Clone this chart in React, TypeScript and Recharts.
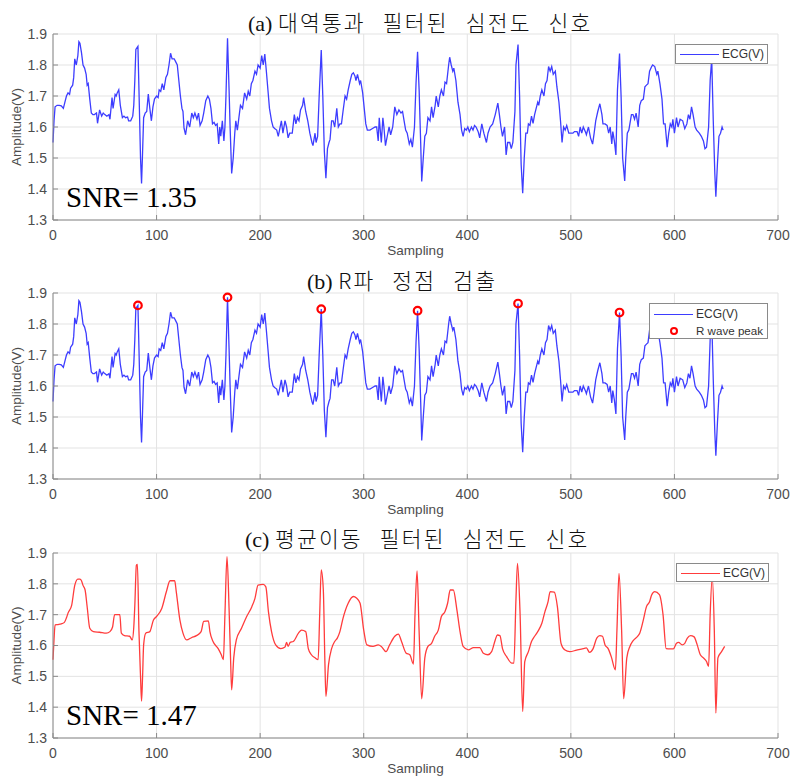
import React from 'react';
import { ComposedChart, Line, Scatter, XAxis, YAxis, CartesianGrid } from 'recharts';

// axis ticks
const xTicks = [0, 100, 200, 300, 400, 500, 600, 700];
const yTicks = [1.3, 1.4, 1.5, 1.6, 1.7, 1.8, 1.9];

// band-pass filtered ECG: [sample, amplitude(V)]
const rawEcg: [number, number][] = [
  [0, 1.55], [1, 1.62], [2, 1.665], [4, 1.67], [6, 1.67], [8, 1.668], [10, 1.66], [11.5, 1.68], [13, 1.7],
  [14.5, 1.71], [16, 1.705], [17, 1.725], [19, 1.735], [20, 1.76], [21, 1.82], [22.5, 1.8], [24, 1.83],
  [25, 1.875], [26, 1.87], [27.5, 1.84], [29, 1.8], [30.5, 1.79], [32, 1.77], [33, 1.735], [34, 1.74],
  [35.5, 1.69], [37, 1.645], [38.5, 1.64], [40, 1.64], [42, 1.645], [43, 1.612], [45, 1.655], [47, 1.635],
  [48.5, 1.645], [50, 1.64], [52, 1.635], [54, 1.64], [55, 1.625], [57, 1.695], [58, 1.66], [60, 1.705],
  [61, 1.7], [62, 1.71], [63.5, 1.72], [65, 1.67], [67, 1.63], [68.5, 1.635], [70, 1.63], [72, 1.632],
  [73, 1.62], [75, 1.62], [77, 1.635], [78, 1.67], [79, 1.75], [80, 1.85], [82, 1.86], [83, 1.72],
  [84.5, 1.5], [85.5, 1.418], [86.5, 1.52], [87.5, 1.63], [89, 1.645], [90.5, 1.65], [92, 1.706],
  [93.5, 1.66], [95, 1.62], [96.5, 1.665], [98, 1.69], [100, 1.7], [101.5, 1.695], [102.5, 1.72],
  [104, 1.715], [105.5, 1.74], [107, 1.72], [109, 1.76], [110.5, 1.77], [112, 1.8], [113.5, 1.838],
  [115, 1.82], [117, 1.82], [118.5, 1.81], [120, 1.8], [121.5, 1.75], [123, 1.7], [124.5, 1.66],
  [125.5, 1.65], [126.5, 1.596], [128, 1.575], [130, 1.62], [132, 1.6], [134, 1.645], [135.5, 1.63],
  [137, 1.645], [139, 1.625], [140.5, 1.645], [142, 1.605], [144, 1.62], [145.5, 1.645], [147.5, 1.685],
  [149.5, 1.7], [151, 1.69], [152.5, 1.66], [154, 1.61], [155.5, 1.615], [157, 1.605], [158.5, 1.61],
  [160, 1.545], [161, 1.6], [162, 1.57], [163.5, 1.62], [165, 1.555], [166, 1.6], [167, 1.7],
  [168.5, 1.886], [170, 1.72], [171, 1.6], [172.5, 1.45], [174, 1.5], [175.5, 1.58], [176.5, 1.62],
  [178, 1.59], [179.5, 1.63], [181, 1.67], [183, 1.66], [185, 1.71], [187, 1.69], [188.5, 1.715],
  [190, 1.7], [191.5, 1.74], [193, 1.75], [195, 1.78], [196.5, 1.77], [198, 1.8], [200, 1.79],
  [201.5, 1.83], [203, 1.8], [204.5, 1.835], [206, 1.78], [207.5, 1.72], [209, 1.66], [211, 1.62],
  [212.5, 1.6], [214, 1.595], [216, 1.59], [217.5, 1.57], [219, 1.595], [220.5, 1.62], [222, 1.58],
  [224, 1.62], [225.5, 1.6], [227, 1.565], [228.5, 1.58], [231, 1.58], [233, 1.64], [234.5, 1.61],
  [236, 1.63], [237.5, 1.62], [239, 1.655], [241, 1.67], [242, 1.695], [244, 1.65], [246, 1.62],
  [248, 1.58], [250, 1.55], [251, 1.54], [253, 1.58], [254, 1.55], [255.5, 1.57], [257, 1.7],
  [259, 1.848], [260.5, 1.7], [262, 1.52], [263.5, 1.435], [265, 1.53], [266.5, 1.55], [267.5, 1.56],
  [269, 1.62], [270.5, 1.62], [272, 1.6], [274, 1.66], [275.5, 1.6], [277, 1.61], [278.5, 1.61],
  [280, 1.65], [282, 1.7], [283.5, 1.69], [285, 1.72], [287, 1.75], [288.5, 1.77], [290, 1.775],
  [291.5, 1.765], [292.5, 1.75], [294, 1.77], [296, 1.74], [297, 1.75], [299, 1.71], [300.5, 1.66],
  [302, 1.61], [303.5, 1.59], [306, 1.59], [308.5, 1.595], [311, 1.6], [312.5, 1.6], [314, 1.555],
  [315, 1.63], [317, 1.55], [318.5, 1.63], [319.5, 1.6], [321, 1.54], [323, 1.575], [324.5, 1.6],
  [326, 1.575], [328, 1.6], [330, 1.665], [332, 1.64], [334, 1.655], [336, 1.645], [337.5, 1.65],
  [339, 1.62], [340.5, 1.59], [342, 1.58], [344, 1.545], [345.5, 1.56], [347, 1.535], [349, 1.6],
  [350.5, 1.74], [352, 1.843], [353.5, 1.72], [355, 1.55], [356, 1.424], [357.5, 1.5], [359, 1.57],
  [360.5, 1.58], [362, 1.63], [364, 1.62], [365.5, 1.665], [367, 1.63], [369, 1.67], [370, 1.7],
  [372, 1.665], [373.5, 1.7], [375, 1.72], [377, 1.7], [378.5, 1.745], [380, 1.74], [382, 1.8],
  [383, 1.825], [384.5, 1.8], [386, 1.78], [387, 1.79], [389, 1.75], [391, 1.68], [393, 1.64],
  [394.5, 1.59], [396, 1.57], [397.5, 1.595], [399, 1.59], [400.5, 1.6], [402, 1.585], [404, 1.6],
  [405.5, 1.59], [407, 1.605], [408.5, 1.6], [410.5, 1.585], [412, 1.565], [414, 1.61], [416, 1.58],
  [418.5, 1.55], [420, 1.58], [422, 1.6], [424.5, 1.61], [427, 1.64], [429.5, 1.677], [431, 1.64],
  [432.5, 1.6], [434, 1.57], [436, 1.6], [437.5, 1.51], [439, 1.55], [441, 1.55], [442.5, 1.53],
  [444, 1.55], [446, 1.65], [447, 1.8], [449, 1.866], [450.5, 1.7], [452, 1.48], [453.5, 1.386],
  [455, 1.5], [456.5, 1.58], [458, 1.58], [459, 1.61], [460.5, 1.605], [462, 1.635], [463.5, 1.612],
  [465, 1.64], [466.5, 1.66], [468, 1.68], [469, 1.67], [470.5, 1.7], [472, 1.72], [474, 1.7],
  [475.5, 1.74], [477, 1.75], [478.5, 1.795], [480, 1.78], [481.5, 1.795], [483, 1.77], [485, 1.78],
  [486.5, 1.73], [488.5, 1.68], [490, 1.62], [491.5, 1.55], [493, 1.6], [494.5, 1.59], [496, 1.605],
  [498, 1.58], [500, 1.58], [502, 1.58], [503.5, 1.585], [506, 1.585], [507.5, 1.57], [509, 1.6],
  [510.5, 1.58], [512, 1.6], [514, 1.585], [515, 1.575], [517, 1.6], [519, 1.565], [521, 1.545],
  [522.5, 1.58], [524, 1.62], [526, 1.65], [528, 1.675], [530, 1.64], [531, 1.61], [533, 1.61],
  [535, 1.605], [536.5, 1.58], [538, 1.6], [539.5, 1.545], [540.5, 1.585], [542, 1.555], [543.5, 1.51],
  [545, 1.72], [547, 1.837], [548.5, 1.7], [550, 1.5], [552, 1.426], [553, 1.5], [554.5, 1.58],
  [556, 1.59], [557, 1.61], [558.5, 1.64], [560, 1.64], [561.5, 1.625], [563, 1.645], [565, 1.6],
  [566.5, 1.67], [568, 1.685], [570, 1.69], [571.5, 1.73], [573, 1.735], [574.5, 1.74], [576, 1.78],
  [578, 1.795], [579, 1.8], [581, 1.795], [583, 1.77], [584, 1.78], [586, 1.74], [588, 1.69],
  [589.5, 1.61], [591, 1.61], [593, 1.535], [594.5, 1.58], [596, 1.61], [597.5, 1.6], [598.5, 1.625],
  [600, 1.58], [602, 1.63], [603.5, 1.6], [605.5, 1.625], [608, 1.62], [610, 1.595], [612, 1.61],
  [613.5, 1.64], [615, 1.625], [616.5, 1.665], [618, 1.64], [620, 1.6], [621.5, 1.59], [624, 1.58],
  [626, 1.57], [628, 1.555], [629.5, 1.53], [631, 1.535], [633, 1.6], [634.5, 1.75], [636, 1.82],
  [637.5, 1.62], [639, 1.45], [640, 1.375], [641.5, 1.48], [643, 1.57], [644.5, 1.58], [646, 1.6],
  [647, 1.59],
];

// moving-average filtered ECG
const smoothEcg: [number, number][] = [
  [0, 1.554], [1, 1.62], [2, 1.667], [5, 1.668], [8, 1.67], [11, 1.675], [13, 1.69], [14.5, 1.705],
  [18, 1.73], [21, 1.795], [24, 1.815], [26, 1.815], [27.5, 1.81], [29, 1.795], [31, 1.78], [33, 1.725],
  [35.5, 1.656], [39, 1.645], [45, 1.643], [51.5, 1.64], [55, 1.645], [57.5, 1.66], [59.5, 1.7],
  [64.5, 1.7], [66, 1.64], [69, 1.632], [74, 1.63], [76.5, 1.618], [78, 1.66], [79, 1.73], [80.5, 1.86],
  [81.5, 1.863], [83, 1.645], [84.5, 1.5], [85.5, 1.42], [86.5, 1.5], [87.5, 1.602], [89.5, 1.64],
  [93.5, 1.645], [97, 1.683], [100, 1.694], [105, 1.72], [109.5, 1.775], [113, 1.81], [117.5, 1.81],
  [119, 1.775], [122.5, 1.683], [125.5, 1.64], [129, 1.618], [134, 1.626], [138.5, 1.632], [143, 1.645],
  [145.5, 1.678], [150, 1.68], [151.5, 1.645], [154.5, 1.613], [159.5, 1.59], [162.5, 1.57],
  [164.5, 1.554], [166, 1.7], [168, 1.888], [170, 1.72], [171.5, 1.55], [172.5, 1.456], [174.5, 1.56],
  [177, 1.618], [182, 1.656], [187, 1.694], [192, 1.726], [195, 1.753], [198, 1.796], [203, 1.798],
  [205.5, 1.79], [208, 1.71], [211, 1.645], [215, 1.602], [220, 1.59], [224, 1.595], [225.5, 1.61],
  [227, 1.597], [229, 1.61], [232, 1.613], [237, 1.64], [240, 1.65], [244, 1.645], [246.5, 1.59],
  [249.5, 1.57], [253, 1.56], [256, 1.554], [257.5, 1.7], [259, 1.845], [261, 1.78], [262.5, 1.55],
  [263.5, 1.435], [266, 1.537], [269, 1.59], [272, 1.613], [274.5, 1.624], [277, 1.645], [280, 1.688],
  [285, 1.737], [290, 1.759], [293, 1.754], [296.5, 1.737], [300, 1.65], [303, 1.602], [309, 1.597],
  [314, 1.602], [317, 1.597], [321.5, 1.58], [325, 1.602], [330, 1.63], [333.5, 1.637], [336.5, 1.613],
  [341, 1.575], [344.5, 1.57], [348, 1.54], [349.5, 1.7], [351.5, 1.842], [353.5, 1.645], [356, 1.427],
  [359, 1.56], [362, 1.597], [365.5, 1.607], [368.5, 1.63], [372, 1.65], [375, 1.694], [378.5, 1.71],
  [381, 1.737], [383.5, 1.78], [386.5, 1.78], [390, 1.715], [393, 1.645], [396, 1.597], [401, 1.586],
  [406, 1.593], [412, 1.593], [415.5, 1.575], [420, 1.57], [423.5, 1.58], [427, 1.618], [429, 1.634],
  [431.5, 1.632], [434, 1.59], [438, 1.564], [443, 1.543], [445, 1.543], [447, 1.75], [448.5, 1.866],
  [451, 1.7], [453.5, 1.386], [455.5, 1.548], [459, 1.58], [462, 1.613], [465, 1.63], [468, 1.645],
  [472, 1.672], [475, 1.71], [478, 1.742], [480, 1.775], [484, 1.773], [487, 1.726], [490.5, 1.607],
  [494, 1.586], [499, 1.58], [505.5, 1.585], [512, 1.59], [515, 1.592], [518, 1.578], [521.5, 1.59],
  [525, 1.624], [528, 1.632], [530.5, 1.63], [533, 1.602], [536, 1.59], [539, 1.564], [543, 1.521],
  [544.5, 1.65], [546.5, 1.834], [549, 1.65], [551, 1.427], [554, 1.56], [557, 1.597], [560, 1.615],
  [565, 1.632], [566.5, 1.64], [570, 1.683], [573, 1.726], [576, 1.742], [578, 1.764], [581, 1.775],
  [585.5, 1.765], [589, 1.7], [592, 1.59], [596, 1.589], [599, 1.589], [602, 1.607], [604, 1.61],
  [607.5, 1.602], [610, 1.607], [612.5, 1.624], [615.5, 1.632], [619, 1.628], [622, 1.602], [625, 1.57],
  [628, 1.56], [631, 1.548], [633, 1.532], [634.5, 1.7], [636.5, 1.82], [638.5, 1.65], [640, 1.381],
  [642, 1.56], [645.5, 1.58], [648.5, 1.597],
];

// detected R peaks
const rPeaks: [number, number][] = [
  [82, 1.86], [168.5, 1.886], [259, 1.848], [352, 1.843], [449, 1.866], [547, 1.837],
];

const toRows = (pts: [number, number][]) => pts.map(([s, v]) => ({ s, v }));

const W = 793;
const AXIS_GRAY = '#8a8a8a';
const TEXT_GRAY = '#4d4d4d';
const SANS = "'Liberation Sans', Arial, sans-serif";
const SERIF = "'Liberation Serif', 'Times New Roman', serif";
const KR = "'Noto Sans CJK KR', sans-serif";
const BLUE = '#3d3dff';
const RED = '#ff3c3c';

const tickStyle = { fill: TEXT_GRAY, fontSize: 14, fontFamily: SANS };

const AmpLabel = ({ cy }: { cy: number }) => (
  <text
    x={16}
    y={cy}
    transform={`rotate(-90 16 ${cy})`}
    textAnchor="middle"
    dominantBaseline="central"
    fill={TEXT_GRAY}
    fontSize={13.5}
    fontFamily={SANS}
  >
    Amplitude(V)
  </text>
);

const PeakMark = (p: any) => (
  <circle cx={p.cx} cy={p.cy} r={3.8} fill="none" stroke="#ff0000" strokeWidth={2.2} />
);

type PanelProps = {
  top: number;
  height: number;
  marginTop: number;
  data: [number, number][];
  color: string;
  curve: 'linear' | 'monotone';
  peaks?: [number, number][];
};

const Panel = ({ top, height, marginTop, data, color, curve, peaks }: PanelProps) => {
  const plotH = height - marginTop - 40;
  return (
    <div style={{ position: 'absolute', left: 0, top, width: W, height }}>
      <ComposedChart
        width={W}
        height={height}
        data={toRows(data)}
        margin={{ top: marginTop, right: 15, bottom: 0, left: 0 }}
      >
        <CartesianGrid stroke="#e3e3e3" />
        <XAxis
          dataKey="s"
          type="number"
          domain={[0, 700]}
          ticks={xTicks}
          height={40}
          tick={tickStyle}
          tickSize={-5}
          tickMargin={15}
          axisLine={{ stroke: AXIS_GRAY }}
          tickLine={{ stroke: AXIS_GRAY }}
          label={{ value: 'Sampling', position: 'insideBottom', offset: 5, fill: TEXT_GRAY, fontSize: 13.5, fontFamily: SANS }}
        />
        <XAxis
          xAxisId="top"
          orientation="top"
          type="number"
          domain={[0, 700]}
          ticks={xTicks}
          height={0}
          tick={false}
          tickSize={-5}
          axisLine={{ stroke: AXIS_GRAY }}
          tickLine={{ stroke: AXIS_GRAY }}
        />
        <YAxis
          type="number"
          domain={[1.3, 1.9]}
          ticks={yTicks}
          width={53}
          tick={tickStyle}
          tickSize={-5}
          tickMargin={11}
          tickFormatter={(v: number) => v.toFixed(1)}
          axisLine={{ stroke: AXIS_GRAY }}
          tickLine={{ stroke: AXIS_GRAY }}
          label={<AmpLabel cy={marginTop + plotH / 2} />}
        />
        <YAxis
          yAxisId="right"
          orientation="right"
          type="number"
          domain={[1.3, 1.9]}
          ticks={yTicks}
          width={0}
          tick={false}
          tickSize={-5}
          axisLine={{ stroke: AXIS_GRAY }}
          tickLine={{ stroke: AXIS_GRAY }}
        />
        <Line
          type={curve}
          dataKey="v"
          stroke={color}
          strokeWidth={1.3}
          dot={false}
          isAnimationActive={false}
        />
        {peaks && (
          <Scatter data={toRows(peaks)} dataKey="v" shape={PeakMark} isAnimationActive={false} />
        )}
      </ComposedChart>
    </div>
  );
};

const Title = ({ top, left, tag, text }: { top: number; left: number; tag: string; text: string }) => (
  <div style={{ position: 'absolute', top, left, whiteSpace: 'pre', lineHeight: '22px', color: '#111' }}>
    <span style={{ fontFamily: SERIF, fontSize: 22 }}>{tag} </span>
    <span style={{ fontFamily: KR, fontSize: 21.5, fontWeight: 300, letterSpacing: 2.2, wordSpacing: 10 }}>{text}</span>
  </div>
);

const Snr = ({ top, text }: { top: number; text: string }) => (
  <div style={{ position: 'absolute', top, left: 66, fontFamily: SERIF, fontSize: 29, lineHeight: '29px', color: '#000', whiteSpace: 'pre' }}>
    {text}
  </div>
);

const LegendBox = ({ left, top, width, height, color, withPeak }: any) => (
  <div
    style={{
      position: 'absolute', left, top, width, height, boxSizing: 'border-box',
      border: '1px solid #8a8a8a', background: '#fff', fontFamily: SANS, fontSize: 12, color: '#333',
    }}
  >
    <div style={{ position: 'absolute', left: 4, top: withPeak ? 10 : height / 2 - 1, width: 39, borderTop: `1px solid ${color}` }} />
    <div style={{ position: 'absolute', left: 46, top: withPeak ? 3 : height / 2 - 8, lineHeight: '14px' }}>ECG(V)</div>
    {withPeak && (
      <>
        <div
          style={{
            position: 'absolute', left: 20, top: 23, width: 8, height: 8, boxSizing: 'border-box',
            borderRadius: '50%', border: '2.2px solid #ff0000',
          }}
        />
        <div style={{ position: 'absolute', left: 46, top: 20, lineHeight: '14px', fontSize: 11.6 }}>R wave peak</div>
      </>
    )}
  </div>
);

export default function App() {
  return (
    <div style={{ position: 'absolute', left: 0, top: 0, width: W, height: 781, background: '#fff', overflow: 'hidden' }}>
      <Panel top={0} height={260} marginTop={34} data={rawEcg} color={BLUE} curve="linear" />
      <Panel top={260} height={259} marginTop={33} data={rawEcg} color={BLUE} curve="linear" peaks={rPeaks} />
      <Panel top={519} height={259} marginTop={34} data={smoothEcg} color={RED} curve="monotone" />

      <Title top={11} left={248} tag="(a)" text="대역통과 필터된 심전도 신호" />
      <Title top={269} left={307} tag="(b)" text="R파 정점 검출" />
      <Title top={527} left={245} tag="(c)" text="평균이동 필터된 심전도 신호" />

      <Snr top={183} text="SNR= 1.35" />
      <Snr top={701} text="SNR= 1.47" />

      <LegendBox left={675} top={44} width={93} height={20} color={BLUE} />
      <LegendBox left={649} top={303} width={119} height={36} color={BLUE} withPeak />
      <LegendBox left={676} top={563} width={93} height={19} color={RED} />
    </div>
  );
}
